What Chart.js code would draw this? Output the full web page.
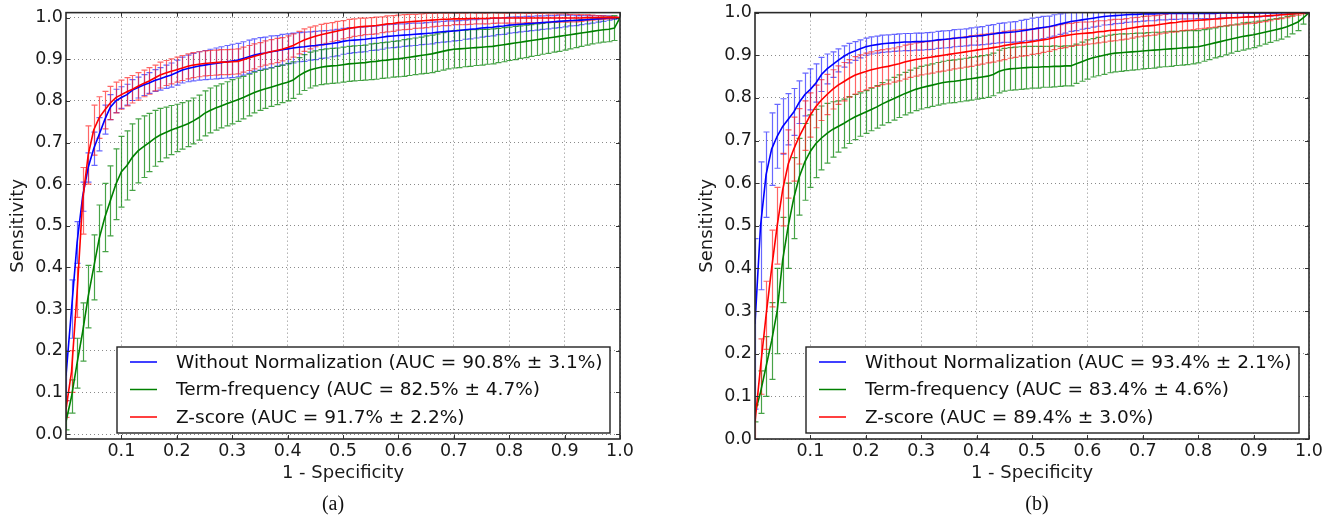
<!DOCTYPE html>
<html>
<head>
<meta charset="utf-8">
<title>ROC curves</title>
<script src="https://cdn.jsdelivr.net/npm/chart.js@4.4.0/dist/chart.umd.min.js"></script>
<style>
    body { margin: 0; background: #fff; width: 1337px; height: 516px; overflow: hidden; position: relative; }
    .panel { position: absolute; top: 0; width: 648px; height: 516px; }
    .caption { position: absolute; top: 491px; width: 60px; text-align: center; font: 20px "Liberation Serif", serif; color: #111; line-height: 24px; }
</style>
</head>
<body>
<div class="panel" style="left:0px"><canvas id="rocA" width="648" height="516"></canvas></div>
<div class="panel" style="left:689px"><canvas id="rocB" width="648" height="516"></canvas></div>
<div class="caption" style="left:303px">(a)</div>
<div class="caption" style="left:1007px">(b)</div>
<script>
// false positive rate grid (1 - specificity)
const fpr = [
    0.00, 0.01, 0.02, 0.03, 0.04, 0.05, 0.06, 0.07, 0.08, 0.09,
    0.10, 0.11, 0.12, 0.13, 0.14, 0.15, 0.16, 0.17, 0.18, 0.19,
    0.20, 0.21, 0.22, 0.23, 0.24, 0.25, 0.26, 0.27, 0.28, 0.29,
    0.30, 0.31, 0.32, 0.33, 0.34, 0.35, 0.36, 0.37, 0.38, 0.39,
    0.40, 0.41, 0.42, 0.43, 0.44, 0.45, 0.46, 0.47, 0.48, 0.49,
    0.50, 0.51, 0.52, 0.53, 0.54, 0.55, 0.56, 0.57, 0.58, 0.59,
    0.60, 0.61, 0.62, 0.63, 0.64, 0.65, 0.66, 0.67, 0.68, 0.69,
    0.70, 0.71, 0.72, 0.73, 0.74, 0.75, 0.76, 0.77, 0.78, 0.79,
    0.80, 0.81, 0.82, 0.83, 0.84, 0.85, 0.86, 0.87, 0.88, 0.89,
    0.90, 0.91, 0.92, 0.93, 0.94, 0.95, 0.96, 0.97, 0.98, 0.99,
    1.00
];

const xTicks = [0.1, 0.2, 0.3, 0.4, 0.5, 0.6, 0.7, 0.8, 0.9, 1.0];
const yTicks = [0.0, 0.1, 0.2, 0.3, 0.4, 0.5, 0.6, 0.7, 0.8, 0.9, 1.0];

const labelsA = [
    'Without Normalization (AUC = 90.8% \u00b1 3.1%)',
    'Term-frequency (AUC = 82.5% \u00b1 4.7%)',
    'Z-score (AUC = 91.7% \u00b1 2.2%)'
];
const labelsB = [
    'Without Normalization (AUC = 93.4% \u00b1 2.1%)',
    'Term-frequency (AUC = 83.4% \u00b1 4.6%)',
    'Z-score (AUC = 89.4% \u00b1 3.0%)'
];

// ---- panel (a): mean sensitivity and error (half-width) ----
const noNormA = [
    0.14, 0.30, 0.46, 0.57, 0.64, 0.685, 0.72, 0.755, 0.785, 0.80,
    0.808, 0.815, 0.826, 0.832, 0.838, 0.843, 0.849, 0.853, 0.858, 0.862,
    0.868, 0.874, 0.878, 0.881, 0.884, 0.886, 0.888, 0.890, 0.892, 0.894,
    0.896, 0.898, 0.902, 0.906, 0.910, 0.913, 0.915, 0.918, 0.920, 0.923,
    0.925, 0.927, 0.929, 0.930, 0.932, 0.933, 0.935, 0.936, 0.938, 0.940,
    0.943, 0.945, 0.946, 0.947, 0.948, 0.950, 0.951, 0.953, 0.955, 0.956,
    0.957, 0.958, 0.959, 0.960, 0.961, 0.962, 0.963, 0.965, 0.966, 0.967,
    0.968, 0.969, 0.971, 0.972, 0.973, 0.975, 0.976, 0.977, 0.979, 0.980,
    0.982, 0.983, 0.984, 0.985, 0.986, 0.987, 0.988, 0.989, 0.990, 0.991,
    0.992, 0.993, 0.993, 0.994, 0.995, 0.996, 0.997, 0.998, 0.999, 0.999,
    1.0
];
const noNormErrA = [
    0.06, 0.07, 0.05, 0.035, 0.035, 0.04, 0.04, 0.035, 0.03, 0.028,
    0.026, 0.025, 0.025, 0.025, 0.025, 0.025, 0.026, 0.027, 0.028, 0.029,
    0.030, 0.031, 0.032, 0.033, 0.034, 0.035, 0.036, 0.037, 0.038, 0.039,
    0.040, 0.040, 0.040, 0.040, 0.039, 0.039, 0.038, 0.038, 0.037, 0.037,
    0.036, 0.036, 0.035, 0.035, 0.034, 0.034, 0.033, 0.033, 0.032, 0.032,
    0.031, 0.031, 0.030, 0.030, 0.030, 0.029, 0.029, 0.029, 0.028, 0.028,
    0.028, 0.027, 0.027, 0.027, 0.026, 0.026, 0.026, 0.025, 0.025, 0.025,
    0.024, 0.024, 0.023, 0.023, 0.022, 0.022, 0.021, 0.021, 0.020, 0.020,
    0.019, 0.019, 0.018, 0.018, 0.017, 0.017, 0.016, 0.016, 0.015, 0.015,
    0.014, 0.013, 0.012, 0.011, 0.010, 0.009, 0.008, 0.007, 0.005, 0.003,
    0
];
const termFreqA = [
    0.03, 0.09, 0.17, 0.245, 0.33, 0.40, 0.47, 0.52, 0.56, 0.60,
    0.63, 0.645, 0.665, 0.68, 0.69, 0.70, 0.71, 0.718, 0.724, 0.73,
    0.735, 0.74, 0.745, 0.752, 0.76, 0.77, 0.777, 0.783, 0.788, 0.793,
    0.798, 0.803, 0.808, 0.814, 0.82, 0.825, 0.829, 0.833, 0.837, 0.841,
    0.845, 0.85, 0.86, 0.868, 0.874, 0.878, 0.881, 0.883, 0.884, 0.885,
    0.887, 0.889, 0.89, 0.891, 0.892, 0.894, 0.895, 0.897, 0.898, 0.90,
    0.901, 0.903, 0.905, 0.907, 0.909, 0.911, 0.913, 0.916, 0.919, 0.922,
    0.924, 0.925, 0.926, 0.927, 0.928, 0.929, 0.93, 0.931, 0.933, 0.935,
    0.937, 0.939, 0.941, 0.943, 0.945, 0.947, 0.949, 0.951, 0.953, 0.955,
    0.957, 0.959, 0.961, 0.963, 0.965, 0.967, 0.969, 0.971, 0.972, 0.975,
    1.0
];
const termFreqErrA = [
    0.02, 0.04, 0.06, 0.07, 0.075, 0.078, 0.08, 0.082, 0.084, 0.085,
    0.085, 0.083, 0.08, 0.077, 0.074, 0.07, 0.067, 0.064, 0.061, 0.059,
    0.057, 0.056, 0.055, 0.055, 0.054, 0.054, 0.054, 0.053, 0.053, 0.053,
    0.053, 0.052, 0.051, 0.05, 0.049, 0.048, 0.047, 0.046, 0.046, 0.045,
    0.045, 0.044, 0.044, 0.043, 0.043, 0.042, 0.042, 0.042, 0.042, 0.042,
    0.042, 0.042, 0.042, 0.042, 0.042, 0.043, 0.043, 0.043, 0.043, 0.043,
    0.043, 0.044, 0.044, 0.044, 0.044, 0.045, 0.045, 0.045, 0.045, 0.045,
    0.045, 0.045, 0.044, 0.044, 0.043, 0.043, 0.042, 0.042, 0.041, 0.041,
    0.040, 0.040, 0.039, 0.039, 0.038, 0.038, 0.037, 0.037, 0.036, 0.036,
    0.035, 0.034, 0.033, 0.032, 0.031, 0.030, 0.030, 0.030, 0.030, 0.030,
    0
];
const zScoreA = [
    0.06, 0.15, 0.34, 0.56, 0.67, 0.73, 0.76, 0.778, 0.795, 0.808,
    0.815, 0.822, 0.828, 0.835, 0.842, 0.848, 0.855, 0.862, 0.867, 0.871,
    0.875, 0.879, 0.883, 0.886, 0.888, 0.89, 0.891, 0.892, 0.893, 0.893,
    0.894, 0.895, 0.899, 0.903, 0.907, 0.911, 0.915, 0.918, 0.921, 0.924,
    0.928, 0.933, 0.94, 0.946, 0.951, 0.955, 0.959, 0.962, 0.965, 0.968,
    0.971, 0.974, 0.976, 0.978, 0.979, 0.98, 0.981, 0.983, 0.985, 0.986,
    0.988, 0.989, 0.99, 0.991, 0.992, 0.993, 0.994, 0.995, 0.996, 0.996,
    0.997, 0.997, 0.997, 0.998, 0.998, 0.998, 0.998, 0.999, 0.999, 0.999,
    0.999, 0.999, 0.999, 0.999, 0.999, 0.999, 0.999, 0.999, 0.999, 0.999,
    0.999, 0.999, 0.999, 0.999, 1.0, 1.0, 1.0, 1.0, 1.0, 1.0,
    1.0
];
const zScoreErrA = [
    0.02, 0.05, 0.06, 0.08, 0.07, 0.06, 0.05, 0.045, 0.04, 0.037,
    0.035, 0.034, 0.033, 0.033, 0.032, 0.032, 0.031, 0.031, 0.030, 0.030,
    0.030, 0.030, 0.030, 0.030, 0.030, 0.030, 0.030, 0.030, 0.030, 0.030,
    0.030, 0.030, 0.030, 0.030, 0.030, 0.029, 0.029, 0.029, 0.029, 0.028,
    0.028, 0.028, 0.027, 0.027, 0.026, 0.025, 0.025, 0.024, 0.023, 0.023,
    0.022, 0.022, 0.021, 0.021, 0.020, 0.020, 0.020, 0.019, 0.019, 0.019,
    0.018, 0.018, 0.018, 0.017, 0.017, 0.017, 0.016, 0.016, 0.015, 0.015,
    0.014, 0.014, 0.014, 0.014, 0.013, 0.013, 0.013, 0.013, 0.012, 0.012,
    0.012, 0.012, 0.012, 0.011, 0.011, 0.011, 0.011, 0.010, 0.010, 0.010,
    0.010, 0.009, 0.009, 0.008, 0.007, 0.006, 0.005, 0.004, 0.003, 0.002,
    0
];

// ---- panel (b) ----
const noNormB = [
    0.27, 0.50, 0.62, 0.68, 0.71, 0.733, 0.75, 0.767, 0.79, 0.808,
    0.82, 0.835, 0.855, 0.868, 0.878, 0.888, 0.897, 0.905, 0.91, 0.915,
    0.92, 0.923, 0.925, 0.927, 0.928, 0.929, 0.93, 0.931, 0.931, 0.932,
    0.932, 0.933, 0.934, 0.936, 0.937, 0.938, 0.94, 0.941, 0.942, 0.944,
    0.945, 0.946, 0.948, 0.95, 0.952, 0.953, 0.954, 0.955, 0.957, 0.959,
    0.961, 0.963, 0.965, 0.967, 0.97, 0.973, 0.976, 0.979, 0.981, 0.983,
    0.985, 0.987, 0.989, 0.991, 0.992, 0.993, 0.994, 0.995, 0.996, 0.996,
    0.997, 0.997, 0.997, 0.998, 0.998, 0.998, 0.998, 0.998, 0.998, 0.998,
    0.998, 0.998, 0.998, 0.998, 0.999, 0.999, 0.999, 0.999, 0.999, 0.999,
    0.999, 0.999, 0.999, 0.999, 0.999, 1.0, 1.0, 1.0, 1.0, 1.0,
    1.0
];
const noNormErrB = [
    0.20, 0.15, 0.10, 0.085, 0.075, 0.065, 0.06, 0.055, 0.05, 0.05,
    0.048, 0.045, 0.04, 0.035, 0.03, 0.027, 0.025, 0.023, 0.022, 0.021,
    0.020, 0.020, 0.020, 0.020, 0.020, 0.020, 0.020, 0.020, 0.020, 0.020,
    0.020, 0.020, 0.020, 0.020, 0.020, 0.020, 0.020, 0.020, 0.020, 0.020,
    0.021, 0.021, 0.022, 0.022, 0.023, 0.023, 0.024, 0.024, 0.025, 0.025,
    0.026, 0.026, 0.026, 0.025, 0.025, 0.024, 0.024, 0.023, 0.023, 0.022,
    0.022, 0.021, 0.021, 0.020, 0.020, 0.019, 0.019, 0.018, 0.018, 0.017,
    0.017, 0.016, 0.016, 0.015, 0.015, 0.014, 0.014, 0.013, 0.013, 0.013,
    0.012, 0.012, 0.012, 0.012, 0.011, 0.011, 0.011, 0.010, 0.010, 0.010,
    0.009, 0.009, 0.008, 0.007, 0.006, 0.005, 0.004, 0.003, 0.002, 0.001,
    0
];
const termFreqB = [
    0.06, 0.11, 0.17, 0.23, 0.30, 0.42, 0.50, 0.565, 0.615, 0.65,
    0.675, 0.693, 0.706, 0.717, 0.726, 0.733, 0.74, 0.748, 0.755, 0.761,
    0.767, 0.773, 0.779, 0.786, 0.792, 0.798, 0.804, 0.81, 0.815, 0.82,
    0.824, 0.827, 0.83, 0.833, 0.836, 0.838, 0.839, 0.841, 0.843, 0.845,
    0.847, 0.849, 0.851, 0.855, 0.862, 0.866, 0.868, 0.869, 0.87, 0.871,
    0.872, 0.872, 0.873, 0.873, 0.874, 0.874, 0.875, 0.875, 0.88, 0.885,
    0.89, 0.894, 0.897, 0.90, 0.903, 0.905, 0.906, 0.907, 0.908, 0.909,
    0.91, 0.911, 0.912, 0.913, 0.914, 0.915, 0.916, 0.917, 0.918, 0.919,
    0.92, 0.923, 0.926, 0.929, 0.932, 0.935, 0.938, 0.941, 0.944, 0.946,
    0.948, 0.951, 0.954, 0.957, 0.96, 0.963, 0.967, 0.972, 0.978, 0.988,
    1.0
];
const termFreqErrB = [
    0.02, 0.05, 0.07, 0.09, 0.10, 0.10, 0.10, 0.095, 0.09, 0.09,
    0.085, 0.08, 0.075, 0.07, 0.065, 0.06, 0.057, 0.055, 0.053, 0.051,
    0.050, 0.050, 0.050, 0.050, 0.050, 0.050, 0.050, 0.050, 0.050, 0.050,
    0.050, 0.050, 0.050, 0.050, 0.050, 0.050, 0.050, 0.050, 0.050, 0.050,
    0.050, 0.050, 0.050, 0.050, 0.050, 0.050, 0.050, 0.050, 0.050, 0.050,
    0.049, 0.049, 0.048, 0.048, 0.048, 0.047, 0.047, 0.047, 0.046, 0.046,
    0.046, 0.045, 0.045, 0.045, 0.044, 0.044, 0.044, 0.043, 0.043, 0.043,
    0.042, 0.042, 0.042, 0.041, 0.041, 0.041, 0.040, 0.040, 0.040, 0.039,
    0.038, 0.037, 0.036, 0.035, 0.035, 0.034, 0.033, 0.032, 0.032, 0.031,
    0.030, 0.029, 0.028, 0.027, 0.026, 0.025, 0.024, 0.022, 0.020, 0.015,
    0
];
const zScoreB = [
    0.04, 0.17, 0.29, 0.40, 0.50, 0.585, 0.645, 0.68, 0.71, 0.735,
    0.76, 0.78, 0.795, 0.808, 0.82, 0.83, 0.838, 0.846, 0.853, 0.858,
    0.862, 0.866, 0.869, 0.872, 0.874, 0.877, 0.88, 0.884, 0.887, 0.89,
    0.892, 0.894, 0.896, 0.898, 0.90, 0.902, 0.904, 0.906, 0.908, 0.91,
    0.912, 0.914, 0.916, 0.918, 0.92, 0.923, 0.925, 0.927, 0.929, 0.93,
    0.932, 0.934, 0.936, 0.938, 0.941, 0.944, 0.946, 0.948, 0.95, 0.951,
    0.952, 0.953, 0.955, 0.956, 0.958, 0.959, 0.96, 0.962, 0.964, 0.966,
    0.968, 0.969, 0.97, 0.972, 0.974, 0.976, 0.977, 0.979, 0.98, 0.981,
    0.982, 0.983, 0.984, 0.985, 0.986, 0.987, 0.988, 0.988, 0.989, 0.99,
    0.99, 0.991, 0.992, 0.993, 0.994, 0.995, 0.996, 0.997, 0.998, 0.999,
    1.0
];
const zScoreErrB = [
    0.04, 0.065, 0.08, 0.09, 0.09, 0.085, 0.08, 0.075, 0.065, 0.058,
    0.052, 0.05, 0.048, 0.047, 0.046, 0.045, 0.045, 0.044, 0.044, 0.043,
    0.043, 0.042, 0.042, 0.041, 0.041, 0.040, 0.040, 0.040, 0.039, 0.039,
    0.038, 0.038, 0.038, 0.037, 0.037, 0.037, 0.036, 0.036, 0.036, 0.036,
    0.035, 0.035, 0.034, 0.034, 0.033, 0.033, 0.032, 0.032, 0.031, 0.031,
    0.030, 0.030, 0.029, 0.029, 0.028, 0.028, 0.028, 0.027, 0.027, 0.027,
    0.026, 0.026, 0.026, 0.025, 0.025, 0.025, 0.024, 0.024, 0.024, 0.023,
    0.023, 0.023, 0.023, 0.022, 0.022, 0.022, 0.022, 0.021, 0.021, 0.021,
    0.020, 0.020, 0.019, 0.019, 0.018, 0.018, 0.017, 0.017, 0.016, 0.016,
    0.015, 0.014, 0.013, 0.012, 0.010, 0.009, 0.008, 0.006, 0.004, 0.002,
    0
];

// matplotlib style colours
const lineColors = ['#0000ff', '#008000', '#ff0000'];
const barColors = ['rgba(40, 40, 255, 0.7)', 'rgba(0, 128, 0, 0.72)', 'rgba(255, 30, 30, 0.68)'];

const FONT = '"DejaVu Sans", sans-serif';

// error bars, frame, inner tick marks and the boxed legend
const rocDecor = {
    id: 'rocDecor',
    beforeDatasetsDraw(chart) {
        const { ctx, chartArea, scales } = chart;
        ctx.save();
        ctx.beginPath();
        ctx.rect(chartArea.left, chartArea.top, chartArea.right - chartArea.left, chartArea.bottom - chartArea.top);
        ctx.clip();
        ctx.lineWidth = 1.2;
        chart.data.datasets.forEach(ds => {
            ctx.strokeStyle = ds.errorColor;
            ds.data.forEach((p, i) => {
                const err = ds.errors[i];
                if (!err) return;
                const x = Math.round(scales.x.getPixelForValue(p.x)) + 0.5;
                const yTop = scales.y.getPixelForValue(p.y + err);
                const yBot = scales.y.getPixelForValue(p.y - err);
                ctx.beginPath();
                ctx.moveTo(x, yTop);
                ctx.lineTo(x, yBot);
                ctx.moveTo(x - 3, yTop);
                ctx.lineTo(x + 3, yTop);
                ctx.moveTo(x - 3, yBot);
                ctx.lineTo(x + 3, yBot);
                ctx.stroke();
            });
        });
        ctx.restore();
    },
    afterDatasetsDraw(chart) {
        const { ctx, chartArea, scales } = chart;
        const { left, right, top, bottom } = chartArea;
        ctx.save();

        // inner tick marks
        ctx.strokeStyle = '#333';
        ctx.lineWidth = 1;
        ctx.beginPath();
        xTicks.forEach(v => {
            const x = Math.round(scales.x.getPixelForValue(v)) + 0.5;
            ctx.moveTo(x, top); ctx.lineTo(x, top + 4);
            ctx.moveTo(x, bottom); ctx.lineTo(x, bottom - 4);
        });
        yTicks.forEach(v => {
            const y = Math.round(scales.y.getPixelForValue(v)) + 0.5;
            ctx.moveTo(left, y); ctx.lineTo(left + 4, y);
            ctx.moveTo(right, y); ctx.lineTo(right - 4, y);
        });
        ctx.stroke();

        // frame
        ctx.lineWidth = 1.6;
        ctx.strokeStyle = '#2a2a2a';
        ctx.strokeRect(left, top, right - left, bottom - top);

        // legend box, lower right
        const boxL = left + 51, boxR = right - 10;
        const boxB = bottom - 6, boxT = boxB - 86;
        ctx.fillStyle = '#fff';
        ctx.fillRect(boxL, boxT, boxR - boxL, boxB - boxT);
        ctx.lineWidth = 1.4;
        ctx.strokeStyle = '#222';
        ctx.strokeRect(boxL, boxT, boxR - boxL, boxB - boxT);

        ctx.font = '18.5px ' + FONT;
        ctx.textBaseline = 'middle';
        ctx.textAlign = 'left';
        ctx.fillStyle = '#111';
        chart.data.datasets.forEach((ds, i) => {
            const y = boxT + 15 + i * 27.5;
            ctx.strokeStyle = ds.borderColor;
            ctx.lineWidth = 1.5;
            ctx.beginPath();
            ctx.moveTo(boxL + 13, y);
            ctx.lineTo(boxL + 40, y);
            ctx.stroke();
            ctx.fillText(ds.label, boxL + 59, y + 1);
        });
        ctx.restore();
    }
};

function makeRocChart(canvasId, seriesList, errorList, labels, yMin, yMax) {
    const datasets = seriesList.map((series, k) => ({
        label: labels[k],
        data: fpr.map((x, i) => ({ x: x, y: series[i] })),
        errors: errorList[k],
        errorColor: barColors[k],
        borderColor: lineColors[k],
        backgroundColor: lineColors[k],
        borderWidth: 1.6,
        pointRadius: 0,
        tension: 0,
        fill: false,
        order: 2 - k
    }));

    return new Chart(document.getElementById(canvasId), {
        type: 'line',
        data: { datasets: datasets },
        options: {
            responsive: false,
            animation: false,
            devicePixelRatio: 1,
            layout: { padding: { top: 10, left: 0, right: 28, bottom: 32 } },
            plugins: {
                legend: { display: false },
                tooltip: { enabled: false }
            },
            scales: {
                x: {
                    type: 'linear',
                    min: 0,
                    max: 1,
                    afterBuildTicks: scale => { scale.ticks = xTicks.map(v => ({ value: v })); },
                    afterFit: scale => { scale.height = 45; },
                    grid: { color: '#8a8a8a', lineWidth: 1, drawTicks: false },
                    border: { display: false, dash: [1, 3] },
                    ticks: {
                        font: { family: FONT, size: 17.5, lineHeight: 1.1 },
                        color: '#1a1a1a',
                        padding: 3,
                        maxRotation: 0,
                        autoSkip: false,
                        callback: v => Number(v).toFixed(1)
                    },
                    title: {
                        display: true,
                        text: '1 - Specificity',
                        font: { family: FONT, size: 18 },
                        color: '#1a1a1a',
                        padding: { top: 0, bottom: 0 }
                    }
                },
                y: {
                    type: 'linear',
                    min: yMin,
                    max: yMax,
                    afterBuildTicks: scale => { scale.ticks = yTicks.map(v => ({ value: v })); },
                    afterFit: scale => { scale.width = 66; },
                    grid: { color: '#8a8a8a', lineWidth: 1, drawTicks: false },
                    border: { display: false, dash: [1, 3] },
                    ticks: {
                        font: { family: FONT, size: 17.5, lineHeight: 1.1 },
                        color: '#1a1a1a',
                        padding: 3,
                        autoSkip: false,
                        callback: v => Number(v).toFixed(1)
                    },
                    title: {
                        display: true,
                        text: 'Sensitivity',
                        font: { family: FONT, size: 18 },
                        color: '#1a1a1a',
                        padding: { top: 8, bottom: 0 }
                    }
                }
            }
        },
        plugins: [rocDecor]
    });
}

makeRocChart('rocA', [noNormA, termFreqA, zScoreA], [noNormErrA, termFreqErrA, zScoreErrA], labelsA, -0.012, 1.012);
makeRocChart('rocB', [noNormB, termFreqB, zScoreB], [noNormErrB, termFreqErrB, zScoreErrB], labelsB, 0, 1);
</script>
</body>
</html>
